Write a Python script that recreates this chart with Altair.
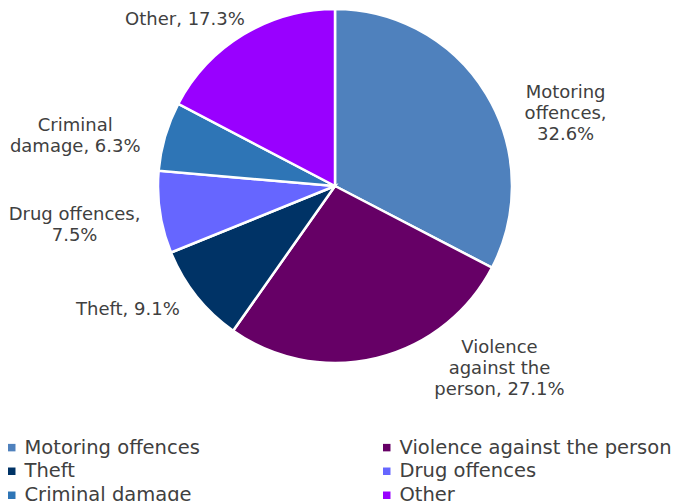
import math
import altair as alt
import pandas as pd

categories = ["Motoring offences", "Violence against the person", "Theft",
              "Drug offences", "Criminal damage", "Other"]
values = [32.6, 27.1, 9.1, 7.5, 6.3, 17.3]
colors = ["#4F81BD", "#660066", "#003366", "#6666FF", "#2E75B6", "#9900FF"]
label_texts = ["Motoring\noffences,\n32.6%", "Violence\nagainst the\nperson, 27.1%",
               "Theft, 9.1%", "Drug offences,\n7.5%", "Criminal\ndamage, 6.3%",
               "Other, 17.3%"]

df = pd.DataFrame({
    "category": categories,
    "value": values,
    "order": list(range(len(categories))),
    "label": label_texts,
})
total = sum(values)

W, H = 665, 493
CX, CY = 327, 178
R = 177
LR = 230
FONT = "DejaVu Sans"
TXT = "#404040"

theta_scale = alt.Scale(domain=[0, total], range=[0, 2 * math.pi])
color_scale = alt.Scale(domain=categories, range=colors)

base = alt.Chart(df)

pie = base.mark_arc(outerRadius=R, stroke="white", strokeWidth=2.5).encode(
    theta=alt.Theta("value:Q", stack=True, scale=theta_scale),
    order=alt.Order("order:Q"),
    color=alt.Color(
        "category:N", scale=color_scale,
        legend=alt.Legend(
            title=None, orient="none", legendX=-6, legendY=429.5,
            direction="horizontal", columns=2, columnPadding=177, rowPadding=3,
            gridAlign="each", padding=0,
            symbolType="square", symbolSize=56, symbolStrokeWidth=0,
            labelFont=FONT, labelFontSize=19.5, labelColor=TXT,
            labelLimit=400, labelOffset=3,
        ),
    ),
    x=alt.value(CX), y=alt.value(CY),
)

# label nudges (layout only)
nudges = {
    "Motoring offences": (34, 26),
    "Violence against the person": (110, -61),
    "Theft": (-27, -19),
    "Drug offences": (-33, -5.5),
    "Criminal damage": (-39, 4.5),
    "Other": (-31, 31),
}

layers = [pie]
for cat, (dx, dy) in nudges.items():
    layers.append(
        base.transform_window(cum="sum(value)", sort=[alt.SortField("order")], frame=[None, 0])
        .transform_calculate(mid="datum.cum - datum.value / 2")
        .transform_filter(alt.datum.category == cat)
        .mark_text(radius=LR, dx=dx, dy=dy, font=FONT, fontSize=18, lineHeight=21,
                   lineBreak="\n", color=TXT, align="center", baseline="middle")
        .encode(
            theta=alt.Theta("mid:Q", stack=None, scale=theta_scale),
            text="label:N",
            x=alt.value(CX), y=alt.value(CY),
        )
    )

chart = alt.layer(*layers).properties(
    width=W, height=H, padding=0, autosize=alt.AutoSizeParams(type="none")
).configure_view(stroke=None)

chart.save("out.html", embed_options={"renderer": "svg", "actions": False})
